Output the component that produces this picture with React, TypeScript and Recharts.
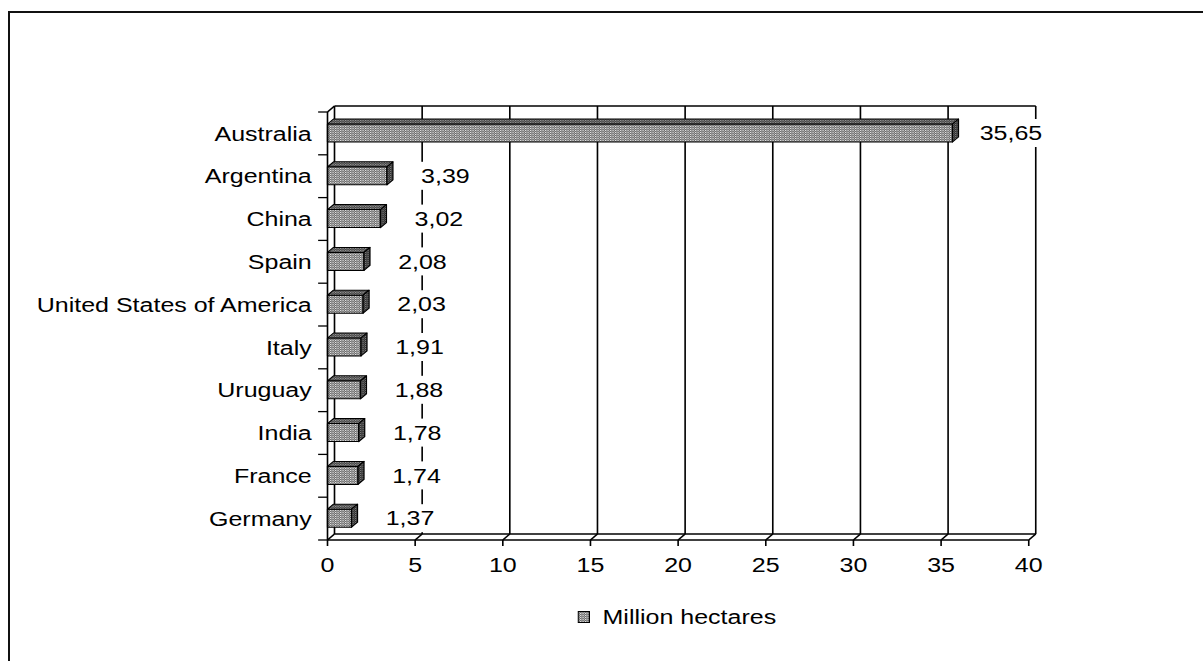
import React from 'react';
import { BarChart, Bar, XAxis, YAxis, CartesianGrid, LabelList, Customized } from 'recharts';

const countries = [
  'Australia',
  'Argentina',
  'China',
  'Spain',
  'United States of America',
  'Italy',
  'Uruguay',
  'India',
  'France',
  'Germany',
];
const hectares = [35.65, 3.39, 3.02, 2.08, 2.03, 1.91, 1.88, 1.78, 1.74, 1.37];
const xTicks = [0, 5, 10, 15, 20, 25, 30, 35, 40];
const seriesName = 'Million hectares';

const data = countries.map((name, i) => ({ name, value: hectares[i] }));

// the old spreadsheet chart is wider than tall, so draw narrow and stretch sideways
const STRETCH = 1.25;
const W = 963;
const H = 661;
const MARGIN = { top: 112, right: 140, bottom: 91, left: 0 };
const Y_W = 262;
const X_H = 30;
const PLOT_L = MARGIN.left + Y_W;
const PLOT_R = W - MARGIN.right;
const PLOT_T = MARGIN.top;
const PLOT_B = H - MARGIN.bottom - X_H;
const BAND = (PLOT_B - PLOT_T) / countries.length;

// depth of the fake 3d walls and boxes
const WALL_DX = 5.6;
const WALL_DY = 6;
const BOX_DX = 4.8;
const BOX_DY = 5;

const FONT = '"Liberation Sans", Arial, sans-serif';
const INK = '#000';
const LINE_W = 1.3;

const fmt = (v: number) => v.toFixed(2).replace('.', ',');

function Dots({ id, base, dot, mid }: { id: string; base: string; dot: string; mid: string }) {
  return (
    <pattern id={id} width={2} height={2} patternUnits="userSpaceOnUse">
      <rect width={2} height={2} fill={base} />
      <rect width={1} height={1} fill={dot} />
      <rect x={1} y={1} width={1} height={1} fill={mid} />
    </pattern>
  );
}

// back wall gridline + floor diagonal at each x tick
const BackLine = (p: any) => {
  const { x1, y1, y2 } = p;
  return (
    <g>
      <line x1={x1 + WALL_DX} y1={y1 - WALL_DY} x2={x1 + WALL_DX} y2={y2 - WALL_DY} stroke={INK} strokeWidth={LINE_W} />
      <line x1={x1} y1={y2} x2={x1 + WALL_DX} y2={y2 - WALL_DY} stroke={INK} strokeWidth={LINE_W} />
    </g>
  );
};

// top edge of the back wall, back edge of the floor, corner
const WallFrame = () => (
  <g stroke={INK} strokeWidth={LINE_W} fill="none">
    <line x1={PLOT_L + WALL_DX} y1={PLOT_T - WALL_DY} x2={PLOT_R + WALL_DX} y2={PLOT_T - WALL_DY} />
    <line x1={PLOT_L + WALL_DX} y1={PLOT_B - WALL_DY} x2={PLOT_R + WALL_DX} y2={PLOT_B - WALL_DY} />
    <line x1={PLOT_L} y1={PLOT_T} x2={PLOT_L + WALL_DX} y2={PLOT_T - WALL_DY} />
  </g>
);

const Box = (p: any) => {
  const { x, y, width, height } = p;
  if (width == null || height == null) return null;
  const dx = BOX_DX;
  const dy = BOX_DY;
  return (
    <g stroke={INK} strokeWidth={1} strokeLinejoin="round">
      <rect x={x} y={y} width={width} height={height} fill="url(#boxFront)" />
      <polygon
        points={`${x},${y} ${x + dx},${y - dy} ${x + width + dx},${y - dy} ${x + width},${y}`}
        fill="url(#boxTop)"
      />
      <polygon
        points={`${x + width},${y} ${x + width + dx},${y - dy} ${x + width + dx},${y + height - dy} ${x + width},${y + height}`}
        fill="url(#boxSide)"
      />
    </g>
  );
};

const ValueTag = (p: any) => {
  const { x, y, width, height, value } = p;
  const cx = Number(x) + Number(width) + BOX_DX + 42;
  const cy = Number(y) + Number(height) / 2;
  const text = fmt(Number(value));
  const tw = text.length * 10.6;
  return (
    <g>
      <rect x={cx - tw / 2 - 5} y={cy - 14} width={tw + 10} height={28} fill="#fff" />
      <text x={cx} y={cy} dy="0.36em" textAnchor="middle" fontSize={20} fontFamily={FONT} fill={INK}>
        {text}
      </text>
    </g>
  );
};

const CountryTick = (p: any) => {
  const { y, payload, index } = p;
  return (
    <g>
      <text x={PLOT_L - 12.6} y={y} dy="0.36em" textAnchor="end" fontSize={20} fontFamily={FONT} fill={INK}>
        {payload.value}
      </text>
      <line x1={PLOT_L - 7.5} y1={y - BAND / 2} x2={PLOT_L} y2={y - BAND / 2} stroke={INK} strokeWidth={LINE_W} />
      {index === countries.length - 1 && (
        <line x1={PLOT_L - 7.5} y1={y + BAND / 2} x2={PLOT_L} y2={y + BAND / 2} stroke={INK} strokeWidth={LINE_W} />
      )}
    </g>
  );
};

const LegendRow = () => (
  <div
    style={{
      position: 'absolute',
      left: 462,
      top: 607,
      display: 'flex',
      alignItems: 'center',
      fontFamily: FONT,
      fontSize: 20,
      lineHeight: '20px',
      color: INK,
      whiteSpace: 'nowrap',
    }}
  >
    <svg width={10} height={12} style={{ display: 'block', marginRight: 10 }}>
      <defs>
        <Dots id="legendDots" base="#6a6a6a" dot="#e6e6e6" mid="#a0a0a0" />
      </defs>
      <rect x={0.5} y={0.5} width={9} height={11} fill="url(#legendDots)" stroke={INK} strokeWidth={1} />
    </svg>
    <span>{seriesName}</span>
  </div>
);

export default function App() {
  return (
    <div style={{ position: 'absolute', left: 0, top: 0, width: 1203, height: 661, overflow: 'hidden', background: '#fff' }}>
      <div
        style={{
          position: 'absolute',
          left: 8,
          top: 11,
          width: 1220,
          height: 700,
          borderLeft: '2px solid #111',
          borderTop: '2px solid #111',
        }}
      />
      <div style={{ position: 'absolute', left: 0, top: 0, width: W, height: H, transform: `scaleX(${STRETCH})`, transformOrigin: '0 0' }}>
        <BarChart width={W} height={H} data={data} layout="vertical" margin={MARGIN}>
          <defs>
            <Dots id="boxFront" base="#6a6a6a" dot="#e6e6e6" mid="#a0a0a0" />
            <Dots id="boxTop" base="#444444" dot="#999999" mid="#6e6e6e" />
            <Dots id="boxSide" base="#2e2e2e" dot="#808080" mid="#505050" />
          </defs>
          <CartesianGrid horizontal={false} vertical={BackLine} />
          <Customized component={WallFrame} />
          <XAxis
            type="number"
            domain={[0, 40]}
            ticks={xTicks}
            interval={0}
            height={X_H}
            axisLine={{ stroke: INK, strokeWidth: LINE_W }}
            tickLine={{ stroke: INK, strokeWidth: LINE_W }}
            tickSize={6}
            tickMargin={12}
            tick={{ fontSize: 20, fill: INK, fontFamily: FONT }}
          />
          <YAxis
            type="category"
            dataKey="name"
            width={Y_W}
            interval={0}
            axisLine={{ stroke: INK, strokeWidth: LINE_W }}
            tickLine={false}
            tick={CountryTick}
          />
          <Bar dataKey="value" name={seriesName} barSize={18} shape={Box} isAnimationActive={false}>
            <LabelList dataKey="value" content={ValueTag} />
          </Bar>
        </BarChart>
        <LegendRow />
      </div>
    </div>
  );
}
